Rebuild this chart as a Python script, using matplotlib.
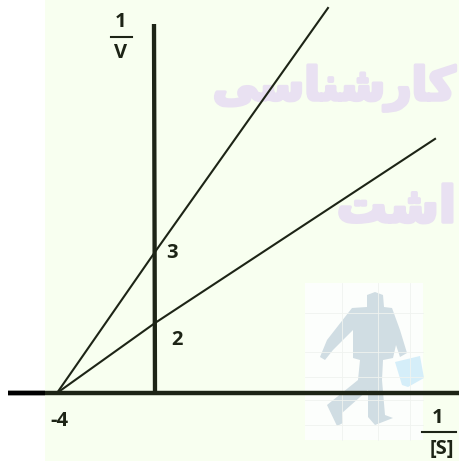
import matplotlib

matplotlib.use("Agg")
import matplotlib.pyplot as plt
import matplotlib.patheffects as pe
from matplotlib.patches import Polygon, Rectangle

W, H = 459, 461

# Lineweaver-Burk lines, values
# x unit = 24.5 px, y unit = 35 px (the drawing is not to scale with its labels)
upper_x = [-4, 0, 7.06]
upper_y = [0, 4.03, 11.0]
lower_x = [-4, 0, 11.43]
lower_y = [0, 2.0, 7.26]
x_intercept_label = "-4"
upper_label = "3"
lower_label = "2"

INK = "#1d2416"
X_UNIT = 24.5
Y_UNIT = 35
ORIGIN = (155, 393)

fig = plt.figure(figsize=(W / 100, H / 100), dpi=100)

# ── background layer in pixel coordinates ──
bg = fig.add_axes([0, 0, 1, 1])
bg.set_xlim(0, W)
bg.set_ylim(H, 0)
bg.axis("off")
bg.add_patch(Rectangle((45, 0), W - 45, H, color="#f8fff0", lw=0))

# watermark text, glyphs are given as presentation forms in visual order
WM = "#e9e1f2"
wm_stroke = [pe.withStroke(linewidth=2.5, foreground=WM)]
bg.text(
    456, 88, "\ufbfd\ufeb3\ufe8e\ufee8\ufeb7\ufead\ufe8e\ufb90",
    family="DejaVu Sans", weight="bold", fontsize=33, color=WM,
    ha="right", va="center", clip_on=True, path_effects=wm_stroke,
)
bg.text(
    456, 208, "\ufe96\ufeb7\ufe8d",
    family="DejaVu Sans", weight="bold", fontsize=36, color=WM,
    ha="right", va="center", clip_on=True, path_effects=wm_stroke,
)

# watermark figure
bg.add_patch(Rectangle((305, 283), 118, 157, color="#fcfefc", lw=0))
for gx in [342, 378, 410]:
    bg.plot([gx, gx], [283, 440], color="#f0f3f0", lw=0.6)
for gy in [313, 352, 377, 400, 425]:
    bg.plot([305, 423], [gy, gy], color="#f0f3f0", lw=0.6)
man = [
    (375, 292), (383, 295), (384, 307), (392, 308), (400, 330), (407, 353),
    (400, 357), (396, 345), (393, 358), (383, 360), (382, 380), (385, 415),
    (393, 418), (375, 425), (368, 417), (368, 390), (342, 413), (343, 423),
    (337, 426), (327, 405), (358, 380), (360, 360), (353, 358), (353, 330),
    (333, 350), (325, 360), (320, 357), (327, 340), (352, 308), (367, 307),
    (367, 295),
]
bg.add_patch(Polygon(man, closed=True, color="#d0dde3", lw=0))
bag = [(395, 362), (420, 356), (424, 378), (408, 387), (402, 385)]
bg.add_patch(Polygon(bag, closed=True, color="#d5eef9", lw=0))

# ── chart layer ──
ax = fig.add_axes([0, 0, 1, 1])
ax.patch.set_alpha(0)
ax.set_xlim(-ORIGIN[0] / X_UNIT, (W - ORIGIN[0]) / X_UNIT)
ax.set_ylim((ORIGIN[1] - H) / Y_UNIT, ORIGIN[1] / Y_UNIT)
ax.axis("off")

ax.plot([(8 - 155) / X_UNIT, (W - 155) / X_UNIT], [0, 0], color=INK, lw=3.2, solid_capstyle="butt")
ax.plot([(8 - 155) / X_UNIT, (45 - 155) / X_UNIT], [0, 0], color="black", lw=3.2, solid_capstyle="butt")
ax.plot([(154 - 155) / X_UNIT, 0], [(393 - 24) / Y_UNIT, 0], color=INK, lw=3.1, solid_capstyle="butt")
ax.plot(upper_x, upper_y, color=INK, lw=1.5)
ax.plot(lower_x, lower_y, color=INK, lw=1.5)


def label(px, py, s, size=14.5):
    ax.text(
        (px - ORIGIN[0]) / X_UNIT, (ORIGIN[1] - py) / Y_UNIT, s,
        family="Open Sans", weight="bold", fontsize=size, color=INK,
        ha="center", va="center",
    )


label(59, 421, x_intercept_label)
label(172, 253, upper_label)
label(177, 340, lower_label)

label(121, 22, "1")
label(121, 53, "V")
ax.plot([(111 - 155) / X_UNIT, (132 - 155) / X_UNIT], [(393 - 36.5) / Y_UNIT] * 2, color=INK, lw=1.5)

label(438, 418, "1")
label(442, 449, "[S]")
ax.plot([(422 - 155) / X_UNIT, (456 - 155) / X_UNIT], [(393 - 432) / Y_UNIT] * 2, color=INK, lw=1.5)

fig.savefig("out.png", dpi=100)
